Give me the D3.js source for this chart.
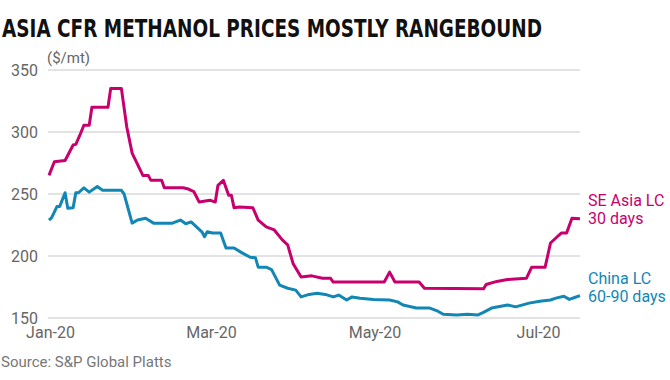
<!DOCTYPE html>
<html><head><meta charset="utf-8">
<script src="https://cdn.jsdelivr.net/npm/d3@7"></script>
<style>
html,body{margin:0;padding:0;background:#fff;}
svg{display:block;}
</style></head>
<body>
<svg id="chart" width="670" height="380"></svg>
<script>
const titleText = "ASIA CFR METHANOL PRICES MOSTLY RANGEBOUND";
const unitLabel = "($/mt)";
const sourceText = "Source: S&P Global Platts";
const yTicks = [150, 200, 250, 300, 350];
const xTickDates = ["2020-01-01", "2020-03-01", "2020-05-01", "2020-07-01"];
const xTickLabels = ["Jan-20", "Mar-20", "May-20", "Jul-20"];
const seriesNames = [["SE Asia LC", "30 days"], ["China LC", "60-90 days"]];

const seAsiaDates = ["2020-01-01","2020-01-03","2020-01-07","2020-01-10","2020-01-11","2020-01-13","2020-01-14","2020-01-16","2020-01-17","2020-01-23","2020-01-24","2020-01-28","2020-01-30","2020-02-01","2020-02-04","2020-02-05","2020-02-07","2020-02-08","2020-02-12","2020-02-13","2020-02-20","2020-02-22","2020-02-24","2020-02-26","2020-03-01","2020-03-03","2020-03-04","2020-03-06","2020-03-08","2020-03-09","2020-03-10","2020-03-12","2020-03-17","2020-03-19","2020-03-22","2020-03-25","2020-03-28","2020-03-30","2020-04-01","2020-04-04","2020-04-08","2020-04-12","2020-04-15","2020-04-16","2020-05-05","2020-05-07","2020-05-09","2020-05-18","2020-05-20","2020-06-11","2020-06-12","2020-06-16","2020-06-20","2020-06-27","2020-06-29","2020-07-04","2020-07-06","2020-07-08","2020-07-10","2020-07-12","2020-07-14","2020-07-17"];
const seAsiaValues = [265,276,277,289.5,290,300,305.5,305.5,320,320,335,335,304,283,269.5,265,265,261,261,255,255,254,252,243.5,245,243.5,257,261,249,249,239,239.5,239,229,223.5,221,213,209,194,183,184,182,182,179,179,187,179,179,174,173.5,177,179.5,181,182,191,191,210.5,214.5,218.5,218.5,230.5,230];

const chinaDates = ["2020-01-01","2020-01-02","2020-01-04","2020-01-05","2020-01-07","2020-01-08","2020-01-10","2020-01-11","2020-01-12","2020-01-14","2020-01-16","2020-01-19","2020-01-21","2020-01-28","2020-01-29","2020-02-01","2020-02-03","2020-02-06","2020-02-09","2020-02-16","2020-02-19","2020-02-21","2020-02-23","2020-02-27","2020-02-28","2020-02-29","2020-03-02","2020-03-05","2020-03-07","2020-03-10","2020-03-13","2020-03-16","2020-03-18","2020-03-19","2020-03-22","2020-03-24","2020-03-27","2020-03-30","2020-04-02","2020-04-04","2020-04-07","2020-04-10","2020-04-13","2020-04-16","2020-04-18","2020-04-21","2020-04-23","2020-04-26","2020-05-01","2020-05-07","2020-05-10","2020-05-12","2020-05-17","2020-05-22","2020-05-25","2020-05-27","2020-06-01","2020-06-05","2020-06-09","2020-06-11","2020-06-14","2020-06-20","2020-06-23","2020-06-28","2020-07-02","2020-07-06","2020-07-08","2020-07-11","2020-07-13","2020-07-15","2020-07-17"];
const chinaValues = [229,231,240,240,251,238.5,239,251,251,255,251.5,256,253,253,250,226.5,229,230.5,226.5,226.5,229,226,227.5,219.5,215.5,219.5,218.5,218.5,206.5,206.5,202.5,199,198.5,191,191,189,176.5,174,172.5,167,169,170,169,167,168.5,164.5,167,166,165,164.5,163,160.5,158,158,155.5,153,152.5,153,152.5,154.5,158,160.5,159,162,163.5,164.5,166,167.5,165,166.5,168];

const colors = ["#c8006e", "#1287b6"];
const parse = d3.timeParse("%Y-%m-%d");

const svg = d3.select("#chart");
const x = d3.scaleTime().domain([parse("2020-01-01"), parse("2020-07-17")]).range([49, 580]);
const y = d3.scaleLinear().domain([150, 350]).range([318, 70]);

// title
svg.append("text").attr("x", 2).attr("y", 36.5)
  .attr("font-family", "'Liberation Sans Narrow','DejaVu Sans Condensed',Roboto,sans-serif")
  .attr("font-stretch", "condensed")
  .attr("font-weight", "bold").attr("font-size", 25).attr("fill", "#111")
  .attr("textLength", 540).attr("lengthAdjust", "spacingAndGlyphs")
  .text(titleText);

// gridlines
svg.append("g").selectAll("line").data(yTicks).join("line")
  .attr("x1", 48).attr("x2", 580)
  .attr("y1", d => y(d)).attr("y2", d => y(d))
  .attr("stroke", "#e3e3e3").attr("stroke-width", 2);

// y axis labels
const yAxis = d3.axisLeft(y).tickValues(yTicks).tickSize(0).tickPadding(0);
const gy = svg.append("g").attr("transform", "translate(38,0.5)").call(yAxis);
gy.select(".domain").remove();
gy.selectAll("text").attr("font-family", "Roboto, sans-serif").attr("font-size", 16).attr("fill", "#666");

// x axis labels
const xAxis = d3.axisBottom(x).tickValues(xTickDates.map(parse))
  .tickFormat((d, i) => xTickLabels[i]).tickSize(0).tickPadding(0);
const gx = svg.append("g").attr("transform", "translate(1,327)").call(xAxis);
gx.select(".domain").remove();
gx.selectAll("text").attr("font-family", "Roboto, sans-serif").attr("font-size", 16).attr("fill", "#666");

// unit label
svg.append("text").attr("x", 47).attr("y", 63)
  .attr("font-family", "Roboto, sans-serif").attr("font-size", 15).attr("fill", "#666")
  .text(unitLabel);

// lines
const line = d3.line().x(d => x(d.date)).y(d => y(d.value)).curve(d3.curveLinear);
const seriesData = [
  seAsiaDates.map((d, i) => ({date: parse(d), value: seAsiaValues[i]})),
  chinaDates.map((d, i) => ({date: parse(d), value: chinaValues[i]}))
];
seriesData.forEach((s, i) => {
  svg.append("path").datum(s).attr("d", line)
    .attr("fill", "none").attr("stroke", colors[i]).attr("stroke-width", 3)
    .attr("stroke-linejoin", "round").attr("stroke-linecap", "butt");
});

// legend labels
const labelY = [[206, 224], [284, 302]];
seriesNames.forEach((lines, i) => {
  lines.forEach((t, j) => {
    svg.append("text").attr("x", 588).attr("y", labelY[i][j])
      .attr("font-family", "Roboto, sans-serif").attr("font-size", 16).attr("fill", colors[i])
      .text(t);
  });
});

// source
svg.append("text").attr("x", 1).attr("y", 367)
  .attr("font-family", "Roboto, sans-serif").attr("font-size", 15).attr("fill", "#777")
  .text(sourceText);
</script>
</body></html>
